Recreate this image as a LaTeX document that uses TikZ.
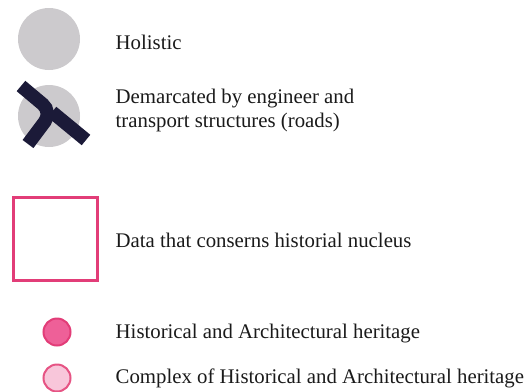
\documentclass[tikz,border=0pt]{standalone}
\usepackage{fontspec}
\setmainfont{Liberation Serif}
\definecolor{lgray}{HTML}{CCCACD}
\definecolor{navy}{HTML}{1B1A38}
\definecolor{pinkline}{HTML}{E23D78}
\definecolor{pinkfill}{HTML}{EE6098}
\definecolor{lpinkfill}{HTML}{F8C6DA}
\definecolor{lpinkline}{HTML}{E65484}
\definecolor{txt}{HTML}{1A1A1A}
\begin{document}
\begin{tikzpicture}[x=1pt,y=-1pt,
  lbl/.style={anchor=base west,inner sep=0pt,text=txt,font=\fontsize{20.8}{24}\selectfont,align=left},
  bigdot/.style={circle,fill=lgray,minimum size=62pt,inner sep=0pt},
  road/.style={draw=navy,line width=13.5pt}
]
\useasboundingbox (0,0) rectangle (529,391);
% Holistic
\node[bigdot] (c1) at (49,39) {};
\node[lbl] (t1) at (115.5,49) {Holistic};
% Demarcated
\node[bigdot] (c2) at (49,116) {};
\coordinate (ra) at (21,86);
\coordinate (rj) at (52,112);
\coordinate (rb) at (86,140);
\coordinate (rc) at (28,144);
\draw[road,rounded corners=12pt] (ra) -- (rj) -- (rc);
\draw[road] (rj) -- (rb);
\node[lbl,anchor=north west] (t2) at (115.5,89) {Demarcated by engineer and\\transport structures (roads)};
% Data
\node[draw=pinkline,line width=3pt,minimum width=84pt,minimum height=83pt,inner sep=0pt] (sq) at (55.5,238.5) {};
\node[lbl] (t3) at (115.5,247) {Data that conserns historial nucleus};
% Historical
\node[circle,draw=pinkline,fill=pinkfill,line width=2pt,minimum size=27pt,inner sep=0pt] (c3) at (57,332) {};
\node[lbl] (t4) at (115.5,338) {Historical and Architectural heritage};
\node[circle,draw=lpinkline,fill=lpinkfill,line width=2pt,minimum size=27pt,inner sep=0pt] (c4) at (57,378) {};
\node[lbl] (t5) at (115.5,383) {Complex of Historical and Architectural heritage};
\end{tikzpicture}
\end{document}
